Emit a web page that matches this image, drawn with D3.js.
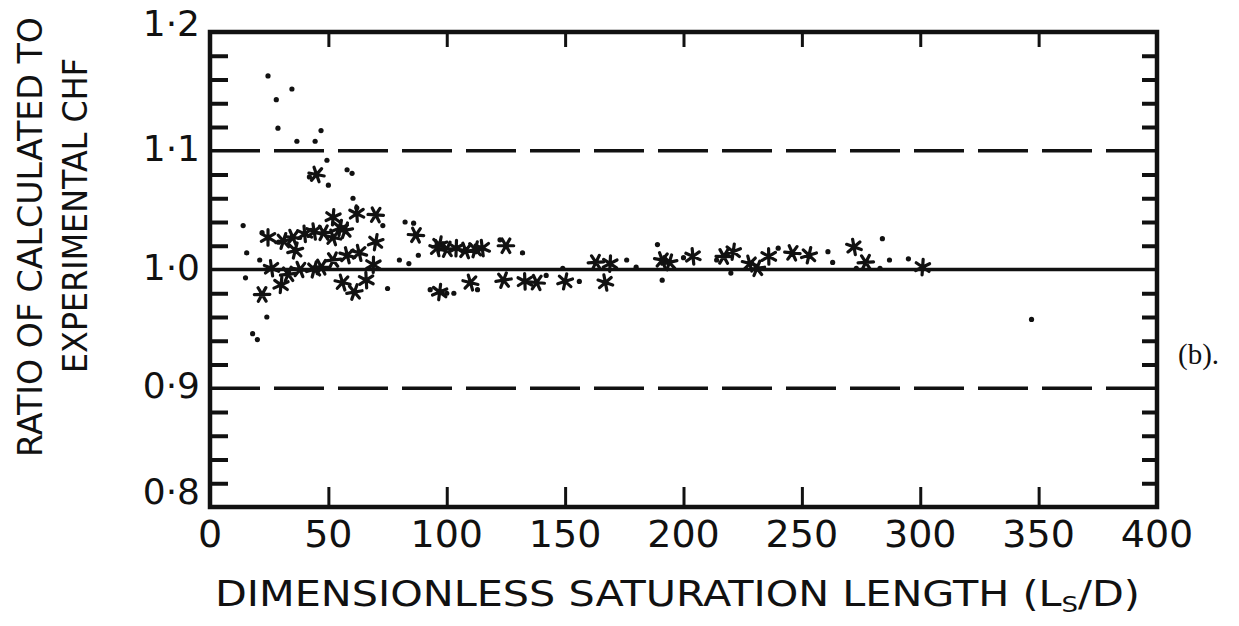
<!DOCTYPE html>
<html>
<head>
<meta charset="utf-8">
<script src="https://cdn.jsdelivr.net/npm/d3@7"></script>
<style>
  body { margin: 0; background: #fff; }
  svg text { font-family: "DejaVu Sans", sans-serif; fill: #111; }
</style>
</head>
<body>
<div id="chart"></div>
<script>
// tick labels
var xTicks = [0, 50, 100, 150, 200, 250, 300, 350, 400];
var yLabels = [1.2, 1.1, 1.0, 0.9, 0.8];
var dashedLevels = [1.1, 0.9];
var solidLevel = 1.0;

// large asterisk blobs (Ls/D, ratio)
var starX = [24.5, 35, 36, 44, 48, 52, 52, 57, 62, 70, 70, 63, 52, 69, 38, 44, 26, 22, 30, 56, 61, 66,
  87, 97, 96, 100, 104, 108, 112, 115, 125, 97, 110, 124, 133, 138, 150, 167, 163, 169,
  191, 194, 204, 217, 221, 228, 231, 236, 246, 253, 272, 277, 301, 45,
  31, 40, 47, 55, 58, 33];
var starY = [1.027, 1.027, 1.016, 1.032, 1.031, 1.044, 1.027, 1.033, 1.047, 1.046, 1.023, 1.014, 1.008, 1.004, 1.000, 1.000, 1.001, 0.979, 0.987, 0.989, 0.981, 0.991,
  1.029, 1.021, 1.018, 1.017, 1.018, 1.016, 1.017, 1.018, 1.020, 0.981, 0.989, 0.991, 0.990, 0.989, 0.990, 0.989, 1.006, 1.005,
  1.008, 1.006, 1.011, 1.011, 1.015, 1.005, 1.001, 1.011, 1.014, 1.012, 1.019, 1.006, 1.002, 1.080,
  1.024, 1.030, 1.002, 1.035, 1.012, 0.996];

// small dots and dash marks
var dotX = [24.5, 34.6, 28, 28.7, 36.7, 44.4, 46.9, 49.4, 57.9, 60, 42, 50, 60.4, 62, 73, 82.4, 14, 15.5, 21, 15,
  18, 20, 24, 29, 22, 86, 80, 84, 88, 93, 98, 103, 113, 122.5, 132, 142, 149, 156, 176, 180,
  189, 200, 214, 240, 261, 263, 284, 287, 295, 273, 283, 220, 191, 75, 100, 347];
var dotY = [1.163, 1.152, 1.143, 1.119, 1.108, 1.108, 1.117, 1.092, 1.084, 1.081, 1.078, 1.071, 1.060, 1.052, 1.037, 1.040, 1.037, 1.014, 1.008, 0.993,
  0.946, 0.941, 0.960, 1.023, 1.031, 1.039, 1.008, 1.005, 1.012, 0.983, 0.981, 0.980, 0.983, 1.025, 1.014, 0.995, 1.001, 0.990, 1.008, 1.002,
  1.021, 1.010, 1.008, 1.018, 1.015, 1.006, 1.026, 1.008, 1.009, 1.001, 1.001, 0.997, 0.991, 0.984, 0.980, 0.958];

var W = 1239, H = 626;
var margin = {top: 32, right: 82, bottom: 119, left: 210},
    width = W - margin.left - margin.right,
    height = H - margin.top - margin.bottom;

var svg = d3.select("#chart").append("svg")
    .attr("width", W)
    .attr("height", H);

var g = svg.append("g")
    .attr("transform", "translate(" + margin.left + "," + margin.top + ")");

// scales
var x = d3.scaleLinear().domain([0, 400]).range([0, width]);
var y = d3.scaleLinear().domain([0.8, 1.2]).range([height, 0]);

// minor y ticks every 0.02 (inward, both sides)
var minorY = d3.range(0.8, 1.2001, 0.02).filter(function(v) {
  return Math.abs(Math.round(v * 10) - v * 10) > 1e-6;
});
g.append("g").call(d3.axisRight(y).tickValues(minorY).tickSize(18).tickFormat(""))
  .call(function(s) { s.select(".domain").remove(); })
  .selectAll("line").attr("stroke", "#111").attr("stroke-width", 4);
g.append("g").attr("transform", "translate(" + width + ",0)")
  .call(d3.axisLeft(y).tickValues(minorY).tickSize(15).tickFormat(""))
  .call(function(s) { s.select(".domain").remove(); })
  .selectAll("line").attr("stroke", "#111").attr("stroke-width", 4);

// x ticks (inward, bottom and top)
g.append("g").attr("transform", "translate(0," + height + ")")
  .call(d3.axisTop(x).tickValues(xTicks.slice(1, -1)).tickSize(20).tickFormat(""))
  .call(function(s) { s.select(".domain").remove(); })
  .selectAll("line").attr("stroke", "#111").attr("stroke-width", 3);
g.append("g")
  .call(d3.axisBottom(x).tickValues(xTicks.slice(1, -1)).tickSize(15).tickFormat(""))
  .call(function(s) { s.select(".domain").remove(); })
  .selectAll("line").attr("stroke", "#111").attr("stroke-width", 3);

// reference lines
g.selectAll(".dash").data(dashedLevels).enter().append("line")
  .attr("x1", 0).attr("x2", width)
  .attr("y1", function(d) { return y(d); })
  .attr("y2", function(d) { return y(d); })
  .attr("stroke", "#111").attr("stroke-width", 3.5)
  .attr("stroke-dasharray", "50,14");
g.append("line")
  .attr("x1", 0).attr("x2", width)
  .attr("y1", y(solidLevel)).attr("y2", y(solidLevel))
  .attr("stroke", "#111").attr("stroke-width", 3.5);

// frame
g.append("rect")
  .attr("width", width).attr("height", height)
  .attr("fill", "none").attr("stroke", "#111").attr("stroke-width", 4.5);

// data: small dots
g.selectAll(".dot").data(dotX).enter().append("circle")
  .attr("cx", function(d) { return x(d); })
  .attr("cy", function(d, i) { return y(dotY[i]); })
  .attr("r", 2.6)
  .attr("fill", "#111");

// data: asterisk blobs
var star = d3.symbol().type(d3.symbolAsterisk).size(170);
g.selectAll(".star").data(starX).enter().append("path")
  .attr("d", star)
  .attr("transform", function(d, i) {
    return "translate(" + x(d) + "," + y(starY[i]) + ") rotate(" + (i * 37 % 60) + ")";
  })
  .attr("fill", "none")
  .attr("stroke", "#111")
  .attr("stroke-width", 3.2)
  .attr("stroke-linecap", "round");

// x tick labels
g.selectAll(".xl").data(xTicks).enter().append("text")
  .attr("x", function(d) { return x(d); })
  .attr("y", height + 29)
  .attr("text-anchor", "middle")
  .attr("dominant-baseline", "middle")
  .style("font-size", "38px")
  .text(function(d) { return d; });

// y tick labels
g.selectAll(".yl").data(yLabels).enter().append("text")
  .attr("x", -10)
  .attr("y", function(d, i) { return y(d) - (i === 0 ? 6 : (i === yLabels.length - 1 ? 13 : 0)); })
  .attr("text-anchor", "end")
  .attr("dominant-baseline", "middle")
  .style("font-size", "36px")
  .text(function(d) { return d.toFixed(1).replace(".", "·"); });

// x axis title
var xt = svg.append("text")
  .attr("x", 215).attr("y", 606)
  .attr("textLength", 925)
  .attr("lengthAdjust", "spacingAndGlyphs")
  .style("font-size", "35px");
xt.append("tspan").text("DIMENSIONLESS SATURATION  LENGTH (L");
xt.append("tspan").attr("dy", 6).style("font-size", "22px").text("S");
xt.append("tspan").attr("dy", -6).text("/D)");

// y axis title (2 lines)
svg.append("text")
  .attr("transform", "translate(42,457) rotate(-90)")
  .attr("textLength", 440)
  .attr("lengthAdjust", "spacingAndGlyphs")
  .style("font-size", "33px")
  .text("RATIO OF CALCULATED TO");
svg.append("text")
  .attr("transform", "translate(87,373) rotate(-90)")
  .attr("textLength", 315)
  .attr("lengthAdjust", "spacingAndGlyphs")
  .style("font-size", "33px")
  .text("EXPERIMENTAL CHF");

// panel label
svg.append("text")
  .attr("x", 1178).attr("y", 364)
  .style("font-family", "'Liberation Serif', serif")
  .style("font-size", "29px")
  .text("(b).");
</script>
</body>
</html>
